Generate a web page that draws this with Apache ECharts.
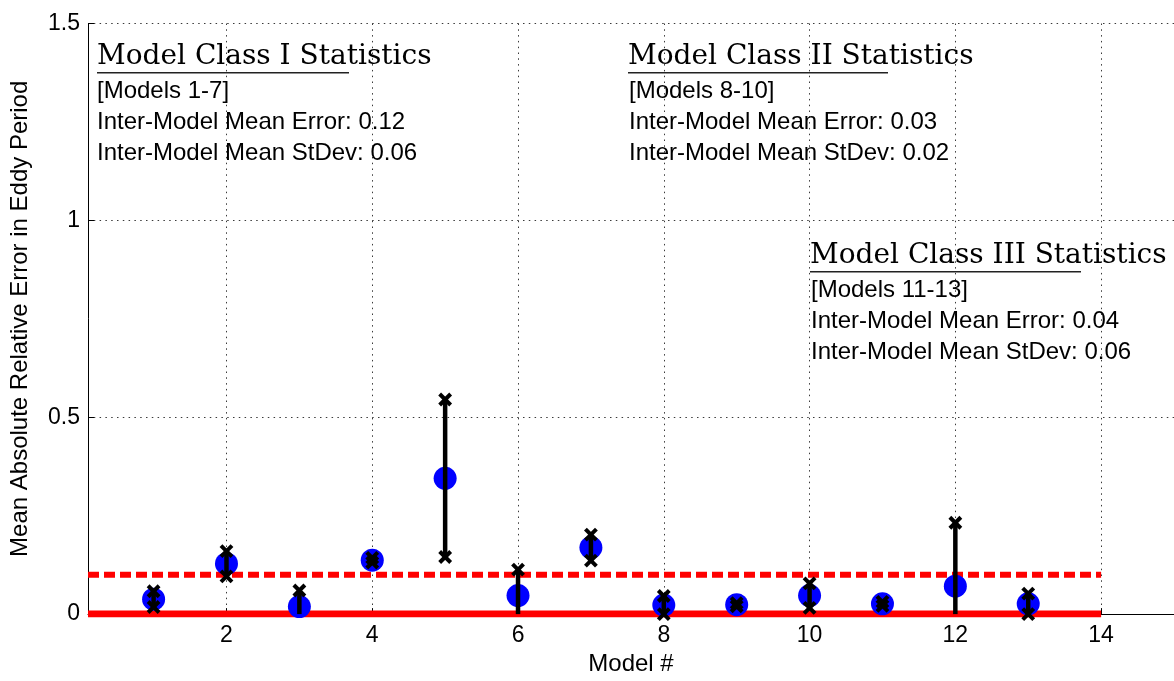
<!DOCTYPE html>
<html>
<head>
<meta charset="utf-8">
<script src="https://cdn.jsdelivr.net/npm/echarts@6/dist/echarts.min.js"></script>
<style>
  html, body { margin: 0; padding: 0; background: #ffffff; }
  #chart { width: 1174px; height: 681px; }
</style>
</head>
<body>
<div id="chart"></div>
<script>
// Model numbers and their mean absolute relative error (with standard deviation)
const models = [1, 2, 3, 4, 5, 6, 7, 8, 9, 10, 11, 12, 13];
const meanError = [0.038, 0.128, 0.019, 0.137, 0.345, 0.047, 0.169, 0.023, 0.024, 0.047, 0.026, 0.071, 0.026];
const stdDev    = [0.020, 0.032, 0.041, 0.006, 0.200, 0.066, 0.033, 0.023, 0.004, 0.031, 0.005, 0.161, 0.026];

// Axis ticks
const xTicks = [2, 4, 6, 8, 10, 12, 14];
const xMin = 0.1, xMax = 15;
const yMin = 0, yMax = 1.5, yStep = 0.5;

// Reference levels (drawn from the axis up to model 14)
const zeroLevel = 0;
const thresholdLevel = 0.1;
const levelEnd = 14;

// Per-class summary text
const classTitles = ['Model Class I Statistics', 'Model Class II Statistics', 'Model Class III Statistics'];
const classRanges = ['[Models 1-7]', '[Models 8-10]', '[Models 11-13]'];
const classMeanError = ['0.12', '0.03', '0.04'];
const classMeanStd = ['0.06', '0.02', '0.06'];

const sans = '"Liberation Sans", Arial, sans-serif';
const serif = '"DejaVu Serif", serif';

// Placement of the three summary blocks
const blockLayout = [
  { x: 97,  titleY: 57,  lineY: 72.7,  lineEnd: 349,  bodyX: 97,  bodyY: 91 },
  { x: 628, titleY: 57,  lineY: 72.7,  lineEnd: 888,  bodyX: 629, bodyY: 91 },
  { x: 810, titleY: 256, lineY: 271.7, lineEnd: 1081, bodyX: 811, bodyY: 290 }
];

function buildGraphics() {
  const out = [];
  blockLayout.forEach((b, i) => {
    out.push({
      type: 'text', x: b.x, y: b.titleY, z: 10,
      style: { text: classTitles[i], font: '28px ' + serif, fill: '#000', verticalAlign: 'middle' }
    });
    out.push({
      type: 'line', z: 10,
      shape: { x1: b.x, y1: b.lineY, x2: b.lineEnd, y2: b.lineY },
      style: { stroke: '#222', lineWidth: 1.5 }
    });
    const lines = [
      classRanges[i],
      'Inter-Model Mean Error: ' + classMeanError[i],
      'Inter-Model Mean StDev: ' + classMeanStd[i]
    ];
    lines.forEach((t, k) => {
      out.push({
        type: 'text', x: b.bodyX, y: b.bodyY + k * 31, z: 10,
        style: { text: t, font: '24px ' + sans, fill: '#000', verticalAlign: 'middle' }
      });
    });
  });
  return out;
}

const chart = echarts.init(document.getElementById('chart'), null, { renderer: 'canvas' });

const dotted = { color: '#3a3a3a', width: 1, type: [1.5, 4.3] };

chart.setOption({
  animation: false,
  backgroundColor: '#ffffff',
  grid: { left: 87.5, top: 23.5, right: -4.5, bottom: 63, containLabel: false },
  xAxis: {
    type: 'value', min: xMin, max: xMax,
    name: 'Model #', nameLocation: 'middle', nameGap: 37,
    nameTextStyle: { fontFamily: sans, fontSize: 24, color: '#000' },
    axisLine: { show: true, onZero: false, lineStyle: { color: '#000', width: 1 } },
    axisTick: { show: true, inside: true, length: 6, customValues: xTicks, lineStyle: { color: '#000' } },
    axisLabel: { customValues: xTicks, fontFamily: sans, fontSize: 23, color: '#000', margin: 10 },
    splitLine: { show: true, lineStyle: dotted }
  },
  yAxis: {
    type: 'value', min: yMin, max: yMax, interval: yStep,
    name: 'Mean Absolute Relative Error in Eddy Period', nameLocation: 'middle', nameGap: 56,
    nameTextStyle: { fontFamily: sans, fontSize: 24, color: '#000' },
    axisLine: { show: true, lineStyle: { color: '#000', width: 1 } },
    axisTick: { show: true, inside: true, length: 6, lineStyle: { color: '#000' } },
    axisLabel: { fontFamily: sans, fontSize: 23, color: '#000', margin: 8 },
    splitLine: { show: true, lineStyle: dotted }
  },
  series: [
    {
      // solid reference at zero
      type: 'line', z: 2, symbol: 'none', silent: true,
      data: [[xMin, zeroLevel], [levelEnd, zeroLevel]],
      lineStyle: { color: '#ff0000', width: 7, cap: 'butt' }
    },
    {
      // dashed threshold
      type: 'line', z: 2, symbol: 'none', silent: true,
      data: [[xMin, thresholdLevel], [levelEnd, thresholdLevel]],
      lineStyle: { color: '#ff0000', width: 6, type: [11, 5], cap: 'butt' }
    },
    {
      // per-model mean error
      type: 'scatter', z: 3,
      symbol: 'circle', symbolSize: 23,
      itemStyle: { color: '#0000ff', opacity: 1 },
      data: models.map((m, i) => [m, meanError[i]])
    },
    {
      // mean ± one standard deviation
      type: 'custom', z: 4,
      data: models.map((m, i) => [m, meanError[i], stdDev[i]]),
      renderItem(params, api) {
        const x = api.value(0), m = api.value(1), s = api.value(2);
        const lo = m - s, hi = m + s;
        const pTop = api.coord([x, hi]);
        const pLo = api.coord([x, Math.max(lo, yMin)]);
        const arm = 5.5;
        const cross = (p) => ({
          type: 'group',
          children: [
            { type: 'line', shape: { x1: p[0] - arm, y1: p[1] - arm, x2: p[0] + arm, y2: p[1] + arm },
              style: { stroke: '#000', lineWidth: 4 } },
            { type: 'line', shape: { x1: p[0] - arm, y1: p[1] + arm, x2: p[0] + arm, y2: p[1] - arm },
              style: { stroke: '#000', lineWidth: 4 } }
          ]
        });
        const children = [
          { type: 'line', shape: { x1: pTop[0], y1: pTop[1], x2: pLo[0], y2: pLo[1] },
            style: { stroke: '#000', lineWidth: 4.5 } },
          cross(pTop)
        ];
        if (lo >= yMin) children.push(cross(api.coord([x, lo])));
        return { type: 'group', children };
      }
    }
  ],
  graphic: buildGraphics()
});
</script>
</body>
</html>
